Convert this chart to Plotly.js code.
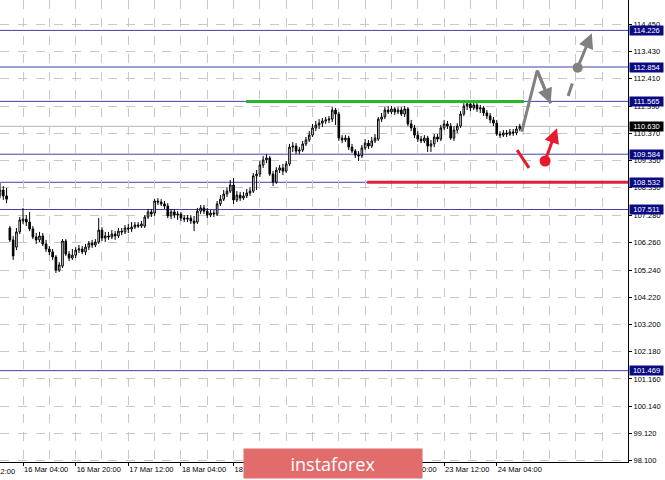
<!DOCTYPE html>
<html><head><meta charset="utf-8">
<script src="https://cdn.plot.ly/plotly-3.0.1.min.js"></script>
<style>html,body{margin:0;padding:0;background:#fff;} #chart{width:665px;height:480px;}</style>
</head><body><div id="chart"></div>
<script>
// H1 bars, index 0 = 13 Mar 12:00 (weekend skipped)
const firstBar = 9;
const openP = [
108.05,108.24,108.02,106.82,106.37,106.10,106.67,107.08,107.15,107.04,
106.78,106.48,106.37,106.52,106.22,106.03,105.92,105.73,105.24,105.39,
106.33,105.84,105.69,105.80,105.99,106.03,105.92,106.10,106.25,106.18,
106.29,106.74,106.44,106.52,106.48,106.59,106.52,106.70,106.67,106.82,
106.78,106.85,106.93,106.89,106.89,107.23,107.42,107.38,107.83,107.79,
107.72,107.64,107.27,107.42,107.30,107.34,107.19,107.15,107.19,107.08,
107.04,107.45,107.57,107.45,107.30,107.38,107.34,107.72,107.90,108.09,
108.20,108.43,107.87,108.05,107.94,108.02,108.13,108.20,108.77,108.84,
109.18,109.37,109.44,108.84,108.54,108.99,109.07,108.95,109.22,109.85,
109.89,109.70,109.74,109.97,110.12,110.30,110.57,110.68,110.75,110.83,
110.87,110.90,111.24,111.09,110.19,110.12,110.19,109.85,109.70,109.55,
109.52,109.82,110.00,109.89,110.08,110.15,110.90,110.98,111.24,111.17,
111.28,111.17,111.24,111.09,111.28,110.72,110.57,110.30,110.15,110.08,
110.19,109.89,109.97,110.23,110.15,110.57,110.72,110.64,110.19,110.49,
110.64,111.09,111.39,111.47,111.32,111.43,111.28,111.32,111.13,111.02,
110.87,110.75,110.34,110.30,110.38,110.34,110.42,110.38,110.53];
const highP = [
108.50,108.39,108.32,106.89,106.52,106.82,107.23,107.57,107.30,107.42,
106.89,106.63,106.67,106.63,106.37,106.14,106.03,105.80,105.54,106.40,
106.40,105.95,106.03,106.10,106.18,106.14,106.22,106.33,106.37,106.40,
107.19,106.85,106.67,106.67,106.74,106.70,106.82,106.82,106.93,106.97,
107.04,107.04,107.04,107.08,107.30,107.53,107.53,107.90,107.94,107.90,
107.83,107.75,107.53,107.53,107.45,107.42,107.30,107.30,107.30,107.27,
107.57,107.68,107.68,107.57,107.49,107.49,107.83,108.05,108.24,108.35,
108.62,108.69,108.20,108.17,108.17,108.28,108.35,108.88,108.99,109.33,
109.52,109.59,109.52,108.95,109.10,109.18,109.22,109.33,109.97,110.04,
110.00,109.85,110.08,110.23,110.45,110.72,110.83,110.90,110.94,110.98,
111.02,111.35,111.32,111.17,110.30,110.30,110.27,109.97,109.78,109.70,
109.93,110.15,110.12,110.23,110.34,110.98,111.13,111.35,111.39,111.39,
111.35,111.35,111.35,111.39,111.35,110.87,110.68,110.45,110.27,110.30,
110.27,110.12,110.34,110.34,110.68,110.87,110.83,110.75,110.64,110.75,
111.20,111.50,111.54,111.54,111.54,111.50,111.43,111.39,111.24,111.13,
110.98,110.87,110.45,110.49,110.49,110.53,110.53,110.64,110.72];
const lowP = [
107.94,107.87,107.75,106.29,105.62,105.99,106.59,106.97,106.89,106.70,
106.40,106.22,106.29,106.14,105.92,105.80,105.62,105.13,105.17,105.32,
105.77,105.58,105.62,105.69,105.88,105.84,105.80,105.99,106.07,106.10,
106.22,106.33,106.29,106.37,106.40,106.37,106.44,106.55,106.59,106.63,
106.67,106.78,106.82,106.82,106.82,107.15,107.23,107.27,107.68,107.64,
107.53,107.19,107.15,107.19,107.12,107.08,107.04,107.04,106.97,106.70,
106.97,107.34,107.34,107.19,107.23,107.23,107.27,107.64,107.83,107.98,
108.13,107.72,107.79,107.83,107.87,107.94,108.02,108.13,108.24,108.73,
109.07,109.25,108.77,108.39,108.47,108.88,108.80,108.88,109.14,109.67,
109.59,109.59,109.67,109.89,110.04,110.23,110.45,110.53,110.60,110.72,
110.75,110.79,110.68,110.08,110.00,110.04,109.74,109.63,109.44,109.33,
109.44,109.74,109.78,109.82,110.00,110.08,110.79,110.90,111.09,111.09,
111.05,111.09,111.02,110.98,110.64,110.45,110.19,110.04,110.00,110.00,
109.67,109.67,109.85,110.04,110.08,110.49,110.53,110.12,110.08,110.38,
110.57,111.02,111.24,111.20,111.24,111.17,111.13,111.02,110.90,110.75,
110.64,110.27,110.19,110.23,110.23,110.27,110.27,110.30,110.45];
const closeP = [
108.24,108.02,107.90,106.37,105.77,106.67,107.12,107.15,107.04,106.78,
106.48,106.37,106.52,106.22,106.03,105.92,105.73,105.24,105.43,106.33,
105.84,105.69,105.80,105.99,106.03,105.92,106.10,106.25,106.18,106.29,
106.74,106.44,106.52,106.48,106.59,106.52,106.70,106.67,106.82,106.78,
106.85,106.93,106.89,106.97,107.23,107.42,107.34,107.83,107.79,107.72,
107.64,107.27,107.42,107.30,107.34,107.19,107.15,107.19,107.08,107.00,
107.45,107.57,107.45,107.30,107.38,107.34,107.72,107.90,108.09,108.20,
108.43,107.87,108.05,107.94,108.02,108.13,108.20,108.77,108.84,109.18,
109.37,109.44,108.84,108.54,108.99,109.07,108.95,109.22,109.85,109.89,
109.70,109.74,109.97,110.12,110.30,110.57,110.68,110.75,110.83,110.87,
110.90,111.24,111.09,110.19,110.12,110.19,109.85,109.70,109.55,109.52,
109.82,110.00,109.89,110.08,110.19,110.90,110.98,111.24,111.17,111.28,
111.17,111.24,111.09,111.28,110.72,110.57,110.30,110.15,110.08,110.19,
109.89,109.97,110.23,110.15,110.57,110.72,110.64,110.19,110.49,110.64,
111.09,111.39,111.47,111.32,111.43,111.28,111.32,111.13,111.02,110.87,
110.75,110.34,110.30,110.38,110.34,110.42,110.38,110.53,110.63];

const tickBars = [16,32,48,64,80,96,112,128,144,160];
const tickLabels = ["16 Mar 04:00","16 Mar 20:00","17 Mar 12:00","18 Mar 04:00","18 Mar 20:00","19 Mar 12:00","20 Mar 04:00","20 Mar 20:00","23 Mar 12:00","24 Mar 04:00"];
const hiddenTickBar = 0, hiddenTickLabel = "13 Mar 12:00";
const priceTicks = [98.100,99.120,100.140,101.160,102.180,103.200,104.220,105.240,106.260,107.280,108.330,109.350,110.370,111.390,112.410,113.430,114.450];
const levels = [114.226,112.854,111.565,109.584,108.532,107.511,101.469];
const currentPrice = 110.630;
const greenX = [83.8,168.3], greenY = [111.565,111.565];
const redLineX = [120.6,199.9], redLineY = [108.532,108.532];
const grayPathX = [167.6,172.3,176.4], grayPathY = [110.43,112.72,111.49];
const grayDashX = [181.7,184.6], grayDashY = [111.77,112.83];
const grayArrowX = [184.6,188.9], grayArrowY = [112.83,114.12];
const redDashX = [166.2,169.8], redDashY = [109.74,109.07];
const redArrowX = [174.7,178.3], redArrowY = [109.33,110.56];

const xRange = [9.0, 199.9];
const bars = openP.map((_, k) => firstBar + k);
const GRAY = '#808080', RED = '#e8192c';
const tickFont = {family:'Liberation Sans, Arial, sans-serif', size:7.5, color:'#000'};

const traces = [
  {type:'candlestick', x:bars, open:openP, high:highP, low:lowP, close:closeP,
   increasing:{line:{color:'#000',width:1}, fillcolor:'#fff'},
   decreasing:{line:{color:'#000',width:1}, fillcolor:'#000'},
   whiskerwidth:0, hoverinfo:'skip', showlegend:false},
  {type:'scatter', mode:'lines', x:greenX, y:greenY, line:{color:'#2cb52c',width:3}, hoverinfo:'skip', showlegend:false},
  {type:'scatter', mode:'lines', x:redLineX, y:redLineY, line:{color:'#e41e36',width:3}, hoverinfo:'skip', showlegend:false, cliponaxis:false},
  {type:'scatter', mode:'lines', x:grayPathX, y:grayPathY, line:{color:GRAY,width:3}, hoverinfo:'skip', showlegend:false},
  {type:'scatter', mode:'lines', x:grayDashX, y:grayDashY, line:{color:GRAY,width:3,dash:'13px,30px'}, hoverinfo:'skip', showlegend:false},
  {type:'scatter', mode:'lines', x:redDashX, y:redDashY, line:{color:RED,width:3}, hoverinfo:'skip', showlegend:false},
  {type:'scatter', mode:'markers', x:[grayArrowX[0]], y:[grayArrowY[0]], marker:{color:GRAY,size:10}, hoverinfo:'skip', showlegend:false},
  {type:'scatter', mode:'markers', x:[redArrowX[0]], y:[redArrowY[0]], marker:{color:RED,size:11}, hoverinfo:'skip', showlegend:false}
];

const shapes = levels.map(v => ({type:'line', xref:'paper', x0:0, x1:1, yref:'y', y0:v, y1:v, line:{color:'#4040b0', width:1}, layer:'below'}));
shapes.push({type:'line', xref:'paper', x0:0, x1:1, yref:'y', y0:currentPrice, y1:currentPrice, line:{color:'#b4b4b4', width:1}, layer:'below'});

const annotations = levels.map(v => ({xref:'paper', x:1, xanchor:'left', xshift:1, yref:'y', y:v, yanchor:'middle',
  text:v.toFixed(3), showarrow:false, bgcolor:'#0a0a84', borderpad:0, width:33, height:9,
  font:{family:'Liberation Sans, Arial, sans-serif', size:7.5, color:'#fff'}}));
annotations.push({xref:'paper', x:1, xanchor:'left', xshift:1, yref:'y', y:currentPrice, yanchor:'middle',
  text:currentPrice.toFixed(3), showarrow:false, bgcolor:'#000', borderpad:0, width:33, height:9,
  font:{family:'Liberation Sans, Arial, sans-serif', size:7.5, color:'#fff'}});
// tick label of bar 0, which lies left of the visible range (only its end shows)
annotations.push({xref:'paper', x:(hiddenTickBar - xRange[0])/(xRange[1]-xRange[0]), xanchor:'left', yref:'paper', y:0, yanchor:'top', yshift:-3, xshift:-1,
  text:hiddenTickLabel, showarrow:false, font:tickFont});
// arrowheads
annotations.push({xref:'x', yref:'y', axref:'x', ayref:'y', x:grayPathX[2], y:grayPathY[2], ax:grayPathX[1], ay:grayPathY[1],
  text:'', showarrow:true, arrowhead:2, arrowsize:1, arrowwidth:3, arrowcolor:GRAY});
annotations.push({xref:'x', yref:'y', axref:'x', ayref:'y', x:grayArrowX[1], y:grayArrowY[1], ax:grayArrowX[0], ay:grayArrowY[0],
  text:'', showarrow:true, arrowhead:2, arrowsize:1, arrowwidth:3, arrowcolor:GRAY});
annotations.push({xref:'x', yref:'y', axref:'x', ayref:'y', x:redArrowX[1], y:redArrowY[1], ax:redArrowX[0], ay:redArrowY[0],
  text:'', showarrow:true, arrowhead:2, arrowsize:1, arrowwidth:3, arrowcolor:RED});
// logo
annotations.push({xref:'paper', x:0.5303, xanchor:'center', yref:'paper', y:-0.0032, yanchor:'middle',
  text:'instaforex', showarrow:false, bgcolor:'#e26b6b', borderpad:0, width:178, height:29,
  font:{family:'Open Sans, sans-serif', size:18, color:'#fff'}});

const layout = {
  width:665, height:480, margin:{l:0, r:37, t:0, b:18},
  paper_bgcolor:'#fff', plot_bgcolor:'#fff', showlegend:false,
  xaxis:{range:xRange, tickmode:'array', tickvals:tickBars, ticktext:tickLabels, tickangle:0,
    ticklabelposition:'outside right', ticks:'outside', ticklen:3, tickcolor:'#000',
    tickfont:tickFont, showgrid:false, showline:true, linecolor:'#000', linewidth:1, zeroline:false,
    rangeslider:{visible:false}, fixedrange:true,
    minor:{tickmode:'linear', tick0:0, dtick:8, showgrid:true, gridcolor:'#c8c8c8', griddash:'dash', gridwidth:1, ticklen:0}},
  yaxis:{range:[98.044,115.366], side:'right', tickmode:'array', tickvals:priceTicks, ticktext:priceTicks.map(v=>v.toFixed(3)),
    ticks:'outside', ticklen:3, tickcolor:'#000', tickfont:tickFont,
    showgrid:true, gridcolor:'#c8c8c8', griddash:'dash', gridwidth:1,
    showline:true, linecolor:'#000', linewidth:1, zeroline:false, fixedrange:true},
  shapes:shapes, annotations:annotations
};
Plotly.newPlot('chart', traces, layout, {staticPlot:true, displayModeBar:false});
</script></body></html>
